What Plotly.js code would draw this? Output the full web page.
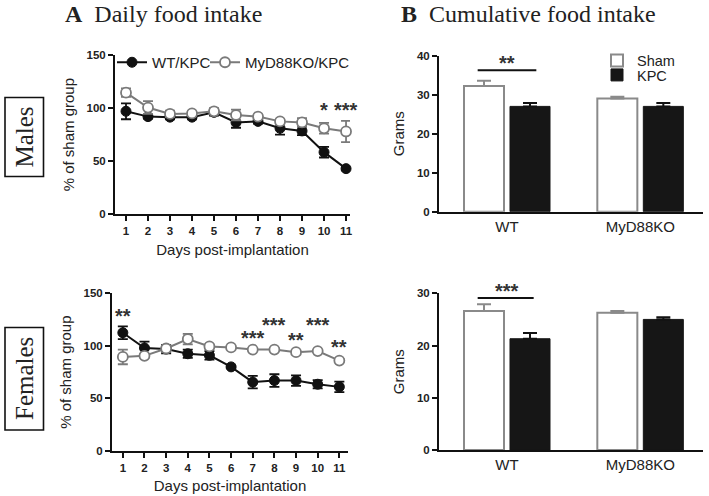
<!DOCTYPE html>
<html>
<head>
<meta charset="utf-8">
<script src="https://cdn.plot.ly/plotly-3.0.1.min.js"></script>
<style>
  html, body { margin: 0; padding: 0; background: #fff; }
  #chart { width: 709px; height: 496px; }
</style>
</head>
<body>
<div id="chart"></div>
<script>
// ---------- data ----------
const days = [1, 2, 3, 4, 5, 6, 7, 8, 9, 10, 11];

// Males: daily food intake (% of sham group)
const maleWT      = [97, 92, 91.5, 91.5, 96, 86.5, 87.5, 81, 78.5, 58.5, 43];
const maleWTErr   = [7.5, 2, 2, 2, 3, 5, 2, 6, 4, 5, 1.5];
const maleKO      = [114.5, 100.5, 94.5, 95, 97, 93.5, 92, 87.5, 86.5, 81, 78];
const maleKOErr   = [4, 6, 3, 2, 3, 5, 2, 2, 4, 5, 10];

// Females: daily food intake (% of sham group)
const femaleWT    = [112.5, 98, 97, 92.5, 91, 80, 65.5, 67, 67, 63.5, 61];
const femaleWTErr = [6, 6, 4, 4, 4, 1, 6, 6, 5, 4, 5];
const femaleKO    = [89.5, 90.5, 97.5, 106.5, 99.5, 98.5, 96.5, 96.5, 94, 95, 86];
const femaleKOErr = [7, 2, 3, 5, 2, 1, 1, 1, 1, 1, 1.5];

// Significance marks on daily plots (day, height, label)
const maleSigDays     = [10, 11];
const maleSigY        = [101.5, 101.5];
const maleSigText     = ['*', '***'];
const femaleSigDays   = [1, 7, 8, 9, 10, 11];
const femaleSigY      = [131.5, 110.5, 123, 108, 123, 102];
const femaleSigText   = ['**', '***', '***', '**', '***', '**'];

// Cumulative food intake (grams)
const genotypes       = ['WT', 'MyD88KO'];
const maleSham        = [32.2, 29.0];
const maleShamErr     = [1.4, 0.5];
const maleKPC         = [27.0, 27.0];
const maleKPCErr      = [0.9, 0.9];
const femaleSham      = [26.6, 26.3];
const femaleShamErr   = [1.3, 0.3];
const femaleKPC       = [21.3, 25.0];
const femaleKPCErr    = [1.1, 0.4];

// bar-chart significance: label, bracket height, label height
const maleBarSig   = {text: '**',  line: 36.3, label: 38.9};
const femaleBarSig = {text: '***', line: 29.1, label: 31.0};

// ---------- styling ----------
const W = 709, H = 496;
const px = v => v / W;
const py = v => 1 - v / H;
const sans = 'Liberation Sans, Arial, Helvetica, sans-serif';
const serif = 'Liberation Serif, Times New Roman, serif';
const txt = '#222';
const gray = '#7a7a7a';
const blk = '#111';

const tickFont = {family: sans, size: 11.5, color: txt, weight: 'bold'};
const titleFont = {family: sans, size: 15, color: txt};

function lineTrace(y, err, isWT, xa, ya, leg) {
  return {
    type: 'scatter', mode: 'lines+markers', x: days, y: y,
    xaxis: xa, yaxis: ya, cliponaxis: false,
    name: isWT ? 'WT/KPC' : 'MyD88KO/KPC',
    showlegend: !!leg, legend: leg || 'legend',
    line: {color: isWT ? blk : gray, width: 2},
    marker: isWT ? {symbol: 'circle', size: 10, color: blk, line: {color: blk, width: 1}}
                 : {symbol: 'circle', size: 10, color: '#fff', line: {color: gray, width: 1.8}},
    error_y: {type: 'data', array: err, visible: true, color: isWT ? blk : gray, thickness: 1.8, width: 5}
  };
}

function barTrace(y, err, isSham, xa, ya, leg) {
  const zeros = y.map(() => 0);
  return {
    type: 'bar', x: genotypes, y: y, xaxis: xa, yaxis: ya,
    name: isSham ? 'Sham' : 'KPC', showlegend: !!leg, legend: leg || 'legend2',
    marker: isSham ? {color: '#fff', line: {color: '#8a8a8a', width: 2}}
                   : {color: '#161616', line: {color: '#161616', width: 1}},
    error_y: {type: 'data', array: err, arrayminus: zeros, symmetric: false, visible: true,
              color: isSham ? '#8a8a8a' : blk, thickness: 2, width: 7}
  };
}

const data = [
  lineTrace(maleWT, maleWTErr, true, 'x', 'y', 'legend'),
  lineTrace(maleKO, maleKOErr, false, 'x', 'y', 'legend4'),
  lineTrace(femaleWT, femaleWTErr, true, 'x2', 'y2', null),
  lineTrace(femaleKO, femaleKOErr, false, 'x2', 'y2', null),
  barTrace(maleSham, maleShamErr, true, 'x3', 'y3', 'legend2'),
  barTrace(maleKPC, maleKPCErr, false, 'x3', 'y3', 'legend3'),
  barTrace(femaleSham, femaleShamErr, true, 'x4', 'y4', null),
  barTrace(femaleKPC, femaleKPCErr, false, 'x4', 'y4', null)
];

function axisBase(extra) {
  return Object.assign({
    showline: true, linecolor: blk, linewidth: 2, mirror: false,
    ticks: 'outside', ticklen: 5, tickwidth: 2, tickcolor: blk,
    showgrid: false, zeroline: false, tickfont: tickFont, automargin: false, fixedrange: true
  }, extra);
}

const annotations = [];
function ann(text, x, y, xref, yref, font, extra) {
  annotations.push(Object.assign({text, x, y, xref, yref, showarrow: false, font}, extra || {}));
}

// Panel titles
ann('<b>A</b>  Daily food intake', px(63), py(14), 'paper', 'paper',
    {family: serif, size: 24, color: txt}, {xanchor: 'left', yanchor: 'middle'});
ann('<b>B</b>  Cumulative food intake', px(399), py(14), 'paper', 'paper',
    {family: serif, size: 24, color: txt}, {xanchor: 'left', yanchor: 'middle'});

// Row labels
ann('Males', px(24.5), py(137), 'paper', 'paper', {family: serif, size: 25, color: txt},
    {textangle: -90, xanchor: 'center', yanchor: 'middle'});
ann('Females', px(24.5), py(378.5), 'paper', 'paper', {family: serif, size: 25, color: txt},
    {textangle: -90, xanchor: 'center', yanchor: 'middle'});

// Star annotations
const starFont = {family: sans, size: 20, color: '#333', weight: 'bold'};
const starShift = -3;
maleSigDays.forEach((d, i) => ann(maleSigText[i], d, maleSigY[i], 'x', 'y', starFont, {yshift: starShift}));
femaleSigDays.forEach((d, i) => ann(femaleSigText[i], d, femaleSigY[i], 'x2', 'y2', starFont, {yshift: starShift}));
ann(maleBarSig.text, 0, maleBarSig.label, 'x3', 'y3', starFont, {yshift: starShift});
// female label sits above the axis top (30): anchor at top and shift by the pixel distance
const fPxPerUnit = (450 - 293.3) / 30;
ann(femaleBarSig.text, 0, Math.min(femaleBarSig.label, 30), 'x4', 'y4', starFont,
    {yshift: starShift + (femaleBarSig.label - Math.min(femaleBarSig.label, 30)) * fPxPerUnit});

const shapes = [
  {type: 'rect', xref: 'paper', yref: 'paper', x0: px(5), x1: px(43.5), y0: py(176.5), y1: py(97.5),
   line: {color: blk, width: 1.6}},
  {type: 'rect', xref: 'paper', yref: 'paper', x0: px(5), x1: px(43.5), y0: py(430), y1: py(327.5),
   line: {color: blk, width: 1.6}},
  {type: 'line', xref: 'x3', yref: 'y3', x0: -0.22, x1: 0.22, y0: maleBarSig.line, y1: maleBarSig.line,
   line: {color: blk, width: 2}},
  {type: 'line', xref: 'x4', yref: 'y4', x0: -0.22, x1: 0.2, y0: femaleBarSig.line, y1: femaleBarSig.line,
   line: {color: blk, width: 2}}
];

const legFont = {family: sans, size: 15, color: txt};
const legFontB = {family: sans, size: 14.5, color: txt};
function leg(xpx, ypx, f) {
  return {orientation: 'v', x: px(xpx), y: py(ypx), xanchor: 'left', yanchor: 'top',
          bgcolor: 'rgba(0,0,0,0)', font: f, itemwidth: 30};
}
const layout = {
  width: W, height: H,
  margin: {l: 0, r: 0, t: 0, b: 0},
  paper_bgcolor: '#fff', plot_bgcolor: '#fff',
  font: {family: sans, color: txt},
  barmode: 'group', bargap: 0.31, bargroupgap: 0.13,
  xaxis: axisBase({domain: [px(115), px(350)], range: [0.5, 11.18], tickvals: days, anchor: 'y',
                   title: {text: 'Days post-implantation', font: titleFont, standoff: 8}}),
  yaxis: axisBase({domain: [py(214.3), py(55)], range: [0, 150], tickvals: [0, 50, 100, 150], anchor: 'x',
                   title: {text: '% of sham group', font: titleFont, standoff: 8}}),
  xaxis2: axisBase({domain: [px(112), px(348)], range: [0.5, 11.4], tickvals: days, anchor: 'y2',
                   title: {text: 'Days post-implantation', font: titleFont, standoff: 8}}),
  yaxis2: axisBase({domain: [py(451), py(293.3)], range: [0, 150], tickvals: [0, 50, 100, 150], anchor: 'x2',
                   title: {text: '% of sham group', font: titleFont, standoff: 8}}),
  xaxis3: axisBase({domain: [px(439), px(703)], range: [-0.51, 1.47], anchor: 'y3',
                   tickfont: {family: sans, size: 15, color: txt}, ticks: '', ticklen: 0}),
  yaxis3: axisBase({domain: [py(211.7), py(55.7)], range: [0, 40], tickvals: [0, 10, 20, 30, 40], anchor: 'x3',
                   title: {text: 'Grams', font: titleFont, standoff: 9}}),
  xaxis4: axisBase({domain: [px(439), px(703)], range: [-0.51, 1.47], anchor: 'y4',
                   tickfont: {family: sans, size: 15, color: txt}, ticks: '', ticklen: 0}),
  yaxis4: axisBase({domain: [py(450), py(293.3)], range: [0, 30], tickvals: [0, 10, 20, 30], anchor: 'x4',
                   title: {text: 'Grams', font: titleFont, standoff: 9}}),
  legend: leg(112, 46, legFont),
  legend4: leg(205, 46, legFont),
  legend2: leg(597, 44.5, legFontB),
  legend3: leg(597, 59, legFontB),
  annotations: annotations,
  shapes: shapes
};

Plotly.newPlot('chart', data, layout, {displayModeBar: false, staticPlot: true});
</script>
</body>
</html>
